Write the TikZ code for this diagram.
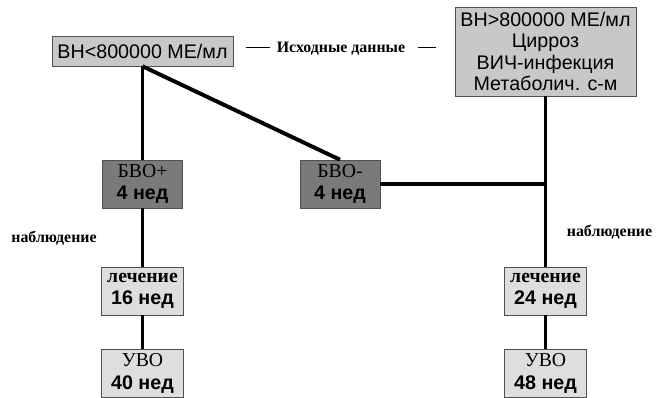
\documentclass[tikz,border=0pt]{standalone}
\usepackage{fontspec}
\setmainfont{Liberation Serif}
\setsansfont{Liberation Sans}
\usepackage{xcolor}
\definecolor{boxgray}{RGB}{200,200,200}
\definecolor{darkbox}{RGB}{122,122,122}
\definecolor{lightbox}{RGB}{222,222,222}
\definecolor{edgegray}{RGB}{80,80,80}
\usetikzlibrary{shadows}
\newcommand{\wk}[1]{{\sffamily\bfseries\fontsize{14}{16}\selectfont #1 нед}}
\tikzset{
    common/.style={draw=edgegray, rectangle, inner sep=1pt, align=center,
        drop shadow={shadow xshift=0.6pt, shadow yshift=-0.6pt, opacity=0.35}},
    infobox/.style={common, fill=boxgray, minimum width=4.53cm,
        font=\sffamily\fontsize{14}{15}\selectfont},
    stagebox/.style={common, fill=darkbox, minimum width=2cm, minimum height=1.2cm,
        font=\fontsize{14}{16}\selectfont},
    therapy/.style={common, fill=lightbox, minimum width=2.04cm, minimum height=1.2cm,
        font=\fontsize{14}{16}\selectfont},
    link/.style={line width=2.8pt},
    note/.style={font=\bfseries\fontsize{11.3}{13}\selectfont}
}

\begin{document}
\begin{tikzpicture}[x=0.025cm, y=-0.025cm]
              \useasboundingbox (0,0) rectangle (661,398);

              % initial data
              \node[infobox, minimum height=0.75cm] (vnlow) at (142.5,51) {ВН<800000 МЕ/мл};
              \node[infobox, minimum height=2.23cm] (vnhigh) at (545.5,51.5)
                  {ВН>800000 МЕ/мл\\Цирроз\\ВИЧ-инфекция\\Метаболич. с-м};
              \node[note] (srcdata) at (341,49)
                  {\rule[0.32em]{17pt}{0.7pt}\hspace{5pt}Исходные данные\hspace{9pt}\rule[0.32em]{13pt}{0.7pt}};

              % week 4 response
              \node[stagebox] (bvoplus) at (142.5,184) {БВО+\\\wk{4}};
              \node[stagebox] (bvominus) at (340,184) {БВО-\\\wk{4}};

              % treatment and outcome
              \node[therapy] (treat16) at (142.5,291) {\textbf{лечение}\\\wk{16}};
              \node[therapy] (svr40) at (142.5,373.5) {УВО\\\wk{40}};
              \node[therapy] (treat24) at (545.5,291) {\textbf{лечение}\\\wk{24}};
              \node[therapy] (svr48) at (545.5,373.5) {УВО\\\wk{48}};

              \node[note] (obsleft) at (54,238) {наблюдение};
              \node[note] (obsright) at (609.5,232) {наблюдение};

              \coordinate (junction) at (vnhigh.south |- bvominus.east);

              \draw[link] (vnlow.south) -- (bvoplus.north);
              \draw[link] (vnlow.south) -- (bvominus.north);
              \draw[link] (bvoplus.south) -- (treat16.north);
              \draw[link] (treat16.south) -- (svr40.north);
              \draw[link] (vnhigh.south) -- (treat24.north);
              \draw[link] (bvominus.east) -- (junction);
              \draw[link] (treat24.south) -- (svr48.north);
\end{tikzpicture}
\end{document}
